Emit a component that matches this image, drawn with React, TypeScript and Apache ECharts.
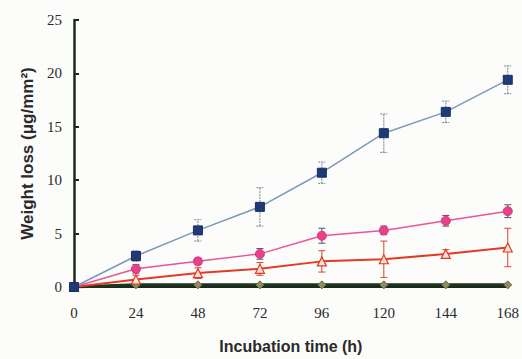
import React, { useEffect, useRef } from "react";
import * as echarts from "echarts";

const hours = [0, 24, 48, 72, 96, 120, 144, 168];
const blueValues = [0, 2.9, 5.3, 7.5, 10.7, 14.4, 16.4, 19.4];
const blueErrors = [0, 0.5, 1.0, 1.8, 1.0, 1.8, 1.0, 1.3];
const pinkValues = [0, 1.7, 2.4, 3.1, 4.8, 5.3, 6.2, 7.1];
const pinkErrors = [0, 0.4, 0.3, 0.5, 0.7, 0.4, 0.5, 0.6];
const redValues = [0, 0.7, 1.3, 1.7, 2.4, 2.6, 3.1, 3.7];
const redErrors = [0, 0.4, 0.5, 0.6, 1.0, 1.7, 0.4, 1.8];
const greenValues = [0, 0.2, 0.2, 0.2, 0.2, 0.2, 0.2, 0.2];
const yTicks = [0, 5, 10, 15, 20, 25];

const pairs = (vals: number[]) => hours.map((h, i) => [h, vals[i]]);
const errData = (vals: number[], errs: number[]) =>
  hours.map((h, i) => [h, vals[i] - errs[i], vals[i] + errs[i]]);

function errorSeries(vals: number[], errs: number[], color: string, dashed: boolean) {
  return {
    type: "custom",
    z: 1,
    data: errData(vals, errs),
    renderItem: (params: any, api: any) => {
      const x = api.value(0);
      const lo = api.coord([x, api.value(1)]);
      const hi = api.coord([x, api.value(2)]);
      const style = { stroke: color, lineWidth: 1, lineDash: dashed ? [2, 1] : undefined };
      const w = 3.5;
      return {
        type: "group",
        children: [
          { type: "line", shape: { x1: lo[0], y1: lo[1], x2: hi[0], y2: hi[1] }, style },
          { type: "line", shape: { x1: lo[0] - w, y1: lo[1], x2: lo[0] + w, y2: lo[1] }, style },
          { type: "line", shape: { x1: hi[0] - w, y1: hi[1], x2: hi[0] + w, y2: hi[1] }, style },
        ],
      };
    },
  };
}

export default function App() {
  const ref = useRef<HTMLDivElement>(null);
  useEffect(() => {
    const chart = echarts.init(ref.current!, null, { renderer: "svg" });
    chart.setOption({
      animation: false,
      backgroundColor: "#fcfcfb",
      grid: { left: 74, right: 14, top: 20, bottom: 68 },
      xAxis: {
        type: "value",
        min: 0,
        max: 168,
        interval: 24,
        name: "Incubation time (h)",
        nameLocation: "middle",
        nameGap: 51,
        nameTextStyle: { fontFamily: "Liberation Sans", fontWeight: "bold", fontSize: 16, color: "#2a2a2a" },
        axisLine: { lineStyle: { color: "#1a2a1a", width: 2 } },
        axisTick: { show: false },
        splitLine: { show: false },
        axisLabel: { fontFamily: "Liberation Serif", fontSize: 15, color: "#2a2a2a", margin: 18 },
      },
      yAxis: {
        type: "value",
        min: 0,
        max: 25,
        interval: 5,
        name: "Weight loss (μg/mm²)",
        nameLocation: "middle",
        nameGap: 38,
        nameTextStyle: { fontFamily: "Liberation Sans", fontWeight: "bold", fontSize: 17, color: "#2a2a2a" },
        axisLine: { show: true, lineStyle: { color: "#1a2a1a", width: 2.5 } },
        axisTick: { show: true, inside: true, length: 5, lineStyle: { color: "#1a2a1a", width: 2 } },
        splitLine: { show: false },
        axisLabel: {
          fontFamily: "Liberation Serif",
          fontSize: 15,
          color: "#2a2a2a",
          margin: 12,
          formatter: (v: number) => (yTicks.includes(v) ? String(v) : ""),
        },
      },
      series: [
        errorSeries(blueValues, blueErrors, "#6f7f95", true),
        errorSeries(pinkValues, pinkErrors, "#4a5a6a", false),
        errorSeries(redValues, redErrors, "#e0402a", false),
        {
          type: "line",
          data: pairs(greenValues),
          z: 3,
          symbol: "diamond",
          symbolSize: 8,
          lineStyle: { color: "#1c3320", width: 3 },
          itemStyle: { color: "#8f8d60", borderColor: "#6a6a40", borderWidth: 1 },
        },
        {
          type: "line",
          data: pairs(redValues),
          z: 4,
          symbol: "triangle",
          symbolSize: 9,
          lineStyle: { color: "#e33a22", width: 2 },
          itemStyle: { color: "#fbe3dc", borderColor: "#e33a22", borderWidth: 1.2 },
        },
        {
          type: "line",
          data: pairs(pinkValues),
          z: 5,
          symbol: "circle",
          symbolSize: 9,
          lineStyle: { color: "#e8559a", width: 1.5 },
          itemStyle: { color: "#e8408a", borderColor: "#d33a7a", borderWidth: 1 },
        },
        {
          type: "line",
          data: pairs(blueValues),
          z: 6,
          symbol: "rect",
          symbolSize: 9,
          lineStyle: { color: "#7a9ab8", width: 1.5 },
          itemStyle: { color: "#1f3a78", borderColor: "#1a2f60", borderWidth: 1 },
        },
      ],
    });
    return () => chart.dispose();
  }, []);
  return <div ref={ref} style={{ position: "absolute", left: 0, top: 0, width: 522, height: 359 }} />;
}
